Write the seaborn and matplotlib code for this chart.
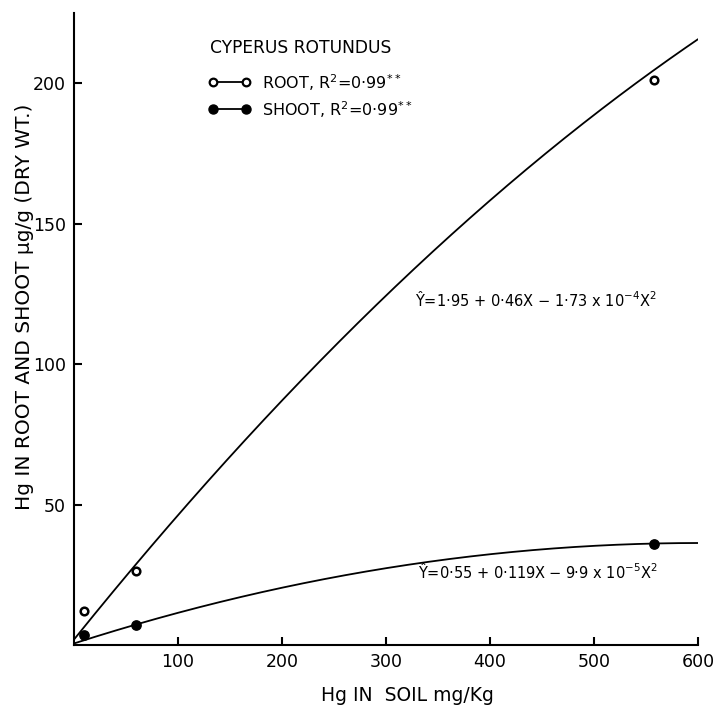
import numpy as np
import pandas as pd
import matplotlib
matplotlib.use("Agg")
import matplotlib.pyplot as plt
import seaborn as sns

# ---- data ----
soil_hg = [10, 60, 558]                 # Hg in soil, mg/kg
root_hg = [12.0, 26.5, 201.0]           # Hg in root, ug/g
shoot_hg = [3.5, 7.2, 36.0]             # Hg in shoot, ug/g
# fitted quadratic coefficients printed on the chart (a + bX + cX^2)
root_coef = [1.95, 0.46, -1.73e-4]
shoot_coef = [0.55, 0.119, -9.9e-5]
x_ticks = [100, 200, 300, 400, 500, 600]
y_ticks = [50, 100, 150, 200]

sns.set_theme(style="white")
plt.rcParams["font.family"] = ["DejaVu Sans"]
plt.rcParams["mathtext.default"] = "regular"
plt.rcParams["text.color"] = "black"
plt.rcParams["axes.labelcolor"] = "black"

fig = plt.figure(figsize=(7.15, 7.07), dpi=100)
ax = fig.add_axes([74/715, 1-645/707, 624/715, 632/707])

pts = pd.DataFrame({"soil": soil_hg * 2,
                    "hg": root_hg + shoot_hg,
                    "part": ["root"] * 3 + ["shoot"] * 3})

xs = np.linspace(0, 600, 300)
curves = pd.DataFrame({
    "soil": np.concatenate([xs, xs]),
    "hg": np.concatenate([root_coef[0] + root_coef[1]*xs + root_coef[2]*xs**2,
                          shoot_coef[0] + shoot_coef[1]*xs + shoot_coef[2]*xs**2]),
    "part": ["root"] * len(xs) + ["shoot"] * len(xs)})

sns.lineplot(data=curves, x="soil", y="hg", hue="part",
             palette={"root": "black", "shoot": "black"}, lw=1.3,
             legend=False, ax=ax)
r = pts[pts.part == "root"]
s = pts[pts.part == "shoot"]
ax.scatter(r.soil, r.hg, s=30, facecolor="white", edgecolor="black", lw=1.8, zorder=5)
ax.scatter(s.soil, s.hg, s=45, facecolor="black", edgecolor="black", lw=1, zorder=5)

ax.set_xlim(0, 600)
ax.set_ylim(0, 225)
ax.set_xticks(x_ticks)
ax.set_yticks(y_ticks)
ax.tick_params(direction="in", length=6, width=1.5, labelsize=12.5,
               colors="black", pad=6, bottom=True, left=True)
for sp in ["top", "right"]:
    ax.spines[sp].set_visible(False)
for sp in ["left", "bottom"]:
    ax.spines[sp].set_color("black")
    ax.spines[sp].set_linewidth(1.5)

ax.set_xlabel("Hg IN  SOIL mg/Kg", fontsize=13.5, color="black")
ax.xaxis.set_label_coords(0.535, -0.065)
ax.set_ylabel("Hg IN ROOT AND SHOOT µg/g (DRY WT.)", fontsize=14.5,
              color="black")
ax.yaxis.set_label_coords(-0.064, 0.535)

# legend drawn as text + marker samples
def fx(px):
    return px / 715
def fy(py):
    return 1 - py / 707
fig.text(fx(210), fy(48), "CYPERUS ROTUNDUS", fontsize=12.3, va="center", ha="left",
         color="black")
fig.add_artist(plt.Line2D([fx(213), fx(246)], [fy(82), fy(82)], color="black", lw=1.3,
                          marker="o", markersize=5.5, markerfacecolor="white",
                          markeredgewidth=1.6, markevery=[0, 1]))
fig.add_artist(plt.Line2D([fx(213), fx(246)], [fy(109), fy(109)], color="black", lw=1.3,
                          marker="o", markersize=6.5, markerfacecolor="black",
                          markevery=[0, 1]))
fig.text(fx(262), fy(83), "ROOT, R$^{2}$=0·99$^{**}$", fontsize=11.5, va="center",
         ha="left", color="black")
fig.text(fx(262), fy(110), "SHOOT, R$^{2}$=0·99$^{**}$", fontsize=11.5, va="center",
         ha="left", color="black")

ax.text(328, 123, "Ŷ=1·95 + 0·46X − 1·73 x 10$^{-4}$X$^{2}$", fontsize=10.5,
        va="center", ha="left", color="black")
ax.text(331, 26, "Ŷ=0·55 + 0·119X − 9·9 x 10$^{-5}$X$^{2}$", fontsize=10.5,
        va="center", ha="left", color="black")

fig.savefig("out.png", dpi=100, facecolor="white")
